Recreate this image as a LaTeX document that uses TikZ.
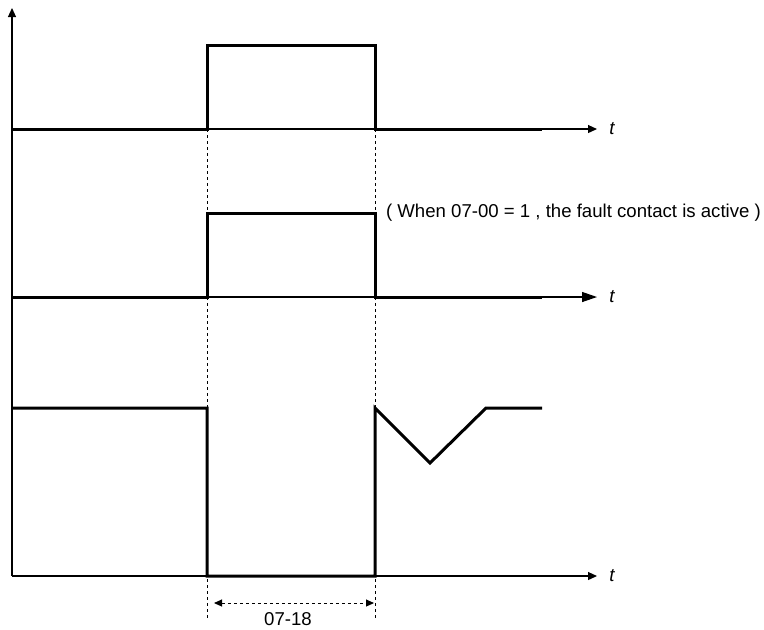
\documentclass[tikz,border=0pt]{standalone}
\usepackage{fontspec}
\setmainfont{Liberation Sans}
\usetikzlibrary{arrows.meta,positioning,calc}

\tikzset{
    signal/.style={line width=1.5pt, line join=miter},
    axisline/.style={line width=0.6pt},
    guide/.style={line width=0.5pt, dash pattern=on 1.5pt off 1.5pt},
    tlabel/.style={font=\fontsize{9.3}{11}\selectfont\itshape},
}

\begin{document}
\begin{tikzpicture}[x=0.5pt, y=-0.5pt, font=\fontsize{9.3}{11}\selectfont]
    \useasboundingbox (0,0) rectangle (764,629);

    % Vertical axis
    \coordinate (orig) at (12,576);
    \coordinate (ytip) at (12,8);
    \draw[axisline, -{Triangle[length=4.5pt,width=4pt]}] (orig) -- (ytip);

    % Time axes
    \foreach \n/\y/\len/\wid in {top/129/4.5/4, mid/297/7.5/5, bot/576/4.5/4} {
        \coordinate (\n0) at (12,\y);
        \coordinate (\n1) at (597,\y);
        \draw[axisline, -{Triangle[length=\len pt,width=\wid pt]}] (\n0) -- (\n1);
        \node[tlabel] (t\n) at (612,\y) {t};
    }

    % Top signal
    \draw[signal] (top0) -- (207,129) -- (207,45) -- (375,45) -- (375,129) -- (542,129);

    % Fault contact signal
    \draw[signal] (mid0) -- (207,297) -- (207,213) -- (375,213) -- (375,297) -- (542,297);
    \node[anchor=west] (note) at (379,213) {( When 07-00 = 1 , the fault contact is active )};

    % Bottom signal with dip after recovery
    \draw[signal] (12,408) -- (207,408) -- (207,576) -- (375,576) -- (375,408)
        -- (430,463) -- (486,408) -- (542,408);

    % Dashed guides
    \coordinate (ga) at (207,129);
    \coordinate (gb) at (375,129);
    \coordinate (ea) at (207,618);
    \coordinate (eb) at (375,618);
    \draw[guide] (ga) -- (ea);
    \draw[guide] (gb) -- (eb);

    % Interval 07-18
    \coordinate (da) at (214,603);
    \coordinate (db) at (374,603);
    \draw[guide, {Triangle[length=4pt,width=3.5pt]}-{Triangle[length=4pt,width=3.5pt]}] (da) -- (db);
    \node (dim) at (288,619) {07-18};
\end{tikzpicture}
\end{document}
